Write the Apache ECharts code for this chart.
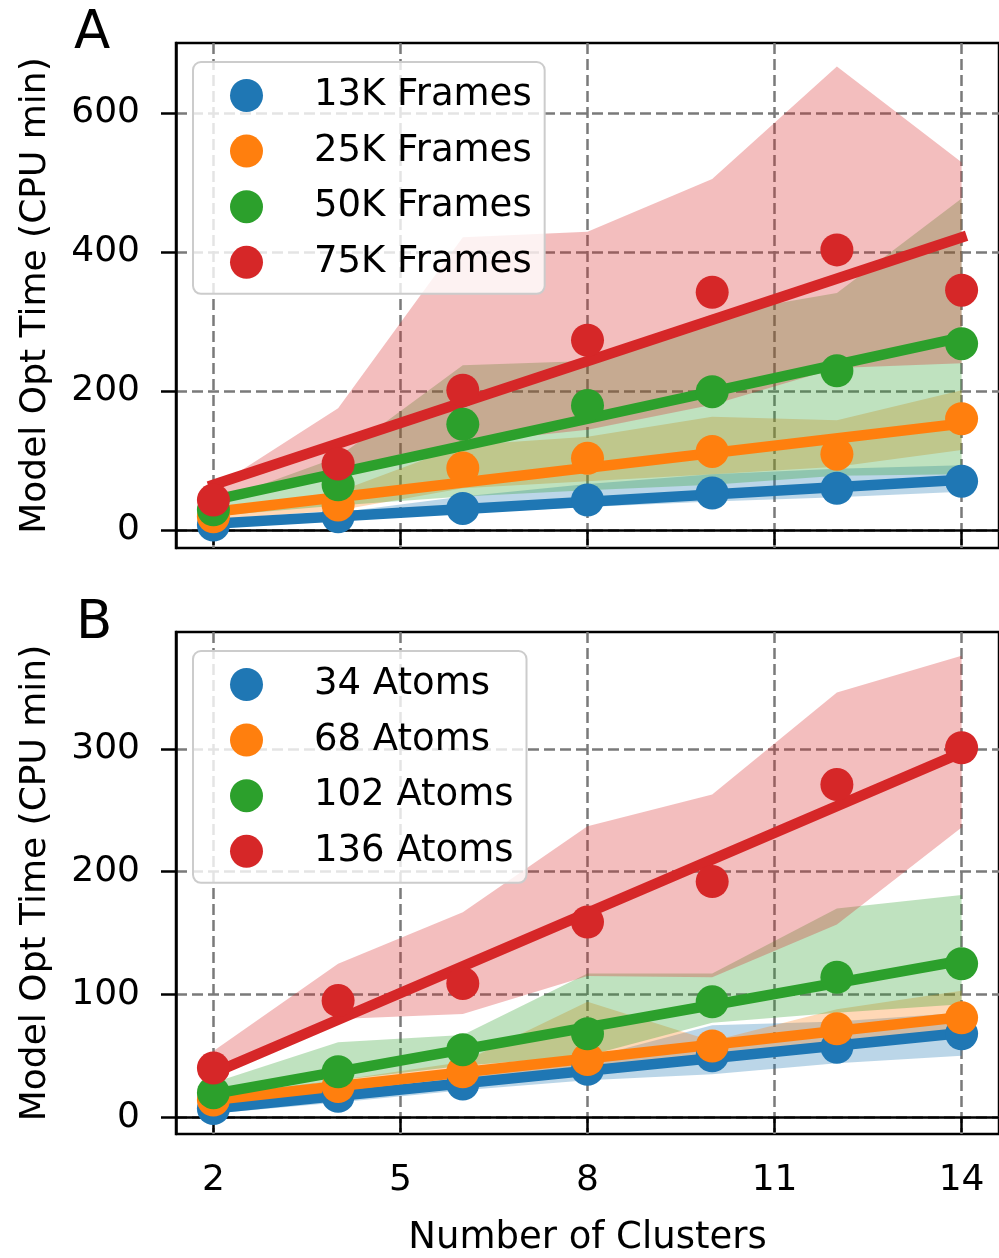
<!DOCTYPE html>
<html><head><meta charset="utf-8">
<script src="https://cdn.jsdelivr.net/npm/echarts@6/dist/echarts.min.js"></script>
<style>html,body{margin:0;padding:0;background:#fff}#c{width:999px;height:1258px}</style>
</head><body><div id="c"></div>
<script>
// ---------- data ----------
const clusters = [2, 4, 6, 8, 10, 12, 14];
const fitX = [2, 14];
const xTicks = [2, 5, 8, 11, 14];
const yTicksA = [0, 200, 400, 600];
const yTicksB = [0, 100, 200, 300];
const namesA = ['13K Frames', '25K Frames', '50K Frames', '75K Frames'];
const namesB = ['34 Atoms', '68 Atoms', '102 Atoms', '136 Atoms'];
const colors = ['#1f77b4', '#ff7f0e', '#2ca02c', '#d62728'];
const bandColors = ['rgba(31,119,180,0.3)', 'rgba(255,127,14,0.3)', 'rgba(44,160,44,0.3)', 'rgba(214,39,40,0.3)'];

// Panel A: mean points
const a13K = [7, 19, 31, 43, 53, 60, 70];
const a25K = [19, 36, 89, 103, 113, 109, 160];
const a50K = [29, 65, 152, 179, 199, 229, 268];
const a75K = [43, 95, 201, 273, 342, 403, 345];
// Panel A: band lower / upper
const a13KLow = [4, 13, 24, 33, 41, 47, 55];
const a13KHigh = [10, 25, 48, 66, 80, 88, 93];
const a25KLow = [15, 28, 60, 70, 80, 91, 115];
const a25KHigh = [28, 55, 122, 134, 163, 158, 201];
const a50KLow = [20, 35, 48, 57, 65, 78, 80];
const a50KHigh = [40, 105, 237, 243, 310, 341, 477];
const a75KLow = [35, 80, 125, 144, 180, 233, 240];
const a75KHigh = [60, 175, 421, 429, 505, 667, 529];
// Panel A: fit line values at x=2 and x=14
const a13KFit = [9, 72];
const a25KFit = [26, 153];
const a50KFit = [43, 277];
const a75KFit = [65, 421];

// Panel B: mean points
const b34 = [7, 17, 27, 39, 50, 57, 68];
const b68 = [14, 25, 37, 47, 58, 72, 81];
const b102 = [20, 37, 55, 68, 94, 114, 125];
const b136 = [40, 95, 109, 159, 192, 271, 301];
// Panel B: band lower / upper
const b34Low = [3, 12, 22, 30, 35, 44, 50];
const b34High = [10, 22, 33, 48, 75, 78, 85];
const b68Low = [10, 20, 30, 38, 48, 60, 70];
const b68High = [18, 30, 45, 94, 62, 88, 103];
const b102Low = [15, 30, 42, 50, 77, 85, 92];
const b102High = [28, 61, 67, 117, 117, 170, 181];
const b136Low = [33, 80, 84, 115, 114, 157, 236];
const b136High = [54, 125, 167, 237, 263, 346, 376];
// Panel B: fit line values at x=2 and x=14
const b34Fit = [7, 68.5];
const b68Fit = [14, 81.5];
const b102Fit = [19, 127.5];
const b136Fit = [36, 297];

// ---------- build ----------
const FONT = 'DejaVu Sans';
const panels = [
  { means: [a13K, a25K, a50K, a75K], lows: [a13KLow, a25KLow, a50KLow, a75KLow],
    highs: [a13KHigh, a25KHigh, a50KHigh, a75KHigh], fits: [a13KFit, a25KFit, a50KFit, a75KFit], names: namesA },
  { means: [b34, b68, b102, b136], lows: [b34Low, b68Low, b102Low, b136Low],
    highs: [b34High, b68High, b102High, b136High], fits: [b34Fit, b68Fit, b102Fit, b136Fit], names: namesB }
];

function bandSeries(p, low, high, color) {
  return {
    type: 'custom', xAxisIndex: p, yAxisIndex: p, silent: true, z: 1,
    data: clusters.map((x, i) => [x, low[i], high[i]]),
    encode: { x: 0, y: [1, 2] },
    renderItem: function (params, api) {
      if (params.dataIndex !== 0) return null;
      const pts = [];
      for (let i = 0; i < clusters.length; i++) pts.push(api.coord([clusters[i], high[i]]));
      for (let i = clusters.length - 1; i >= 0; i--) pts.push(api.coord([clusters[i], low[i]]));
      return { type: 'polygon', shape: { points: pts }, style: { fill: color, stroke: null } };
    }
  };
}

const series = [];
panels.forEach((pan, p) => {
  for (let k = 0; k < 4; k++) series.push(bandSeries(p, pan.lows[k], pan.highs[k], bandColors[k]));
});
panels.forEach((pan, p) => {
  for (let k = 0; k < 4; k++) {
    series.push({
      name: pan.names[k], type: 'scatter', xAxisIndex: p, yAxisIndex: p, z: 3,
      symbol: 'circle', symbolSize: 33, itemStyle: { color: colors[k], opacity: 1 },
      data: clusters.map((x, i) => [x, pan.means[k][i]])
    });
    series.push({
      name: pan.names[k] + ' fit', type: 'line', xAxisIndex: p, yAxisIndex: p, z: 3,
      showSymbol: false, symbol: 'none', silent: true,
      lineStyle: { color: colors[k], width: 10.5, cap: 'square' },
      data: fitX.map((x, i) => [x, pan.fits[k][i]])
    });
  }
});

const gridStyle = { show: true, borderColor: '#000', borderWidth: 2.5, backgroundColor: 'transparent' };
const splitLine = { show: true, lineStyle: { color: '#7a7a7a', width: 2.5, type: [11, 5] } };
const axisLine = { show: true, lineStyle: { color: '#000', width: 2.5 } };
const tick = (vals) => ({ show: true, customValues: vals, length: 15, lineStyle: { color: '#000', width: 2.5 } });

function xAxis(p, showLabel) {
  return {
    type: 'value', gridIndex: p, min: 1.4, max: 14.6,
    axisLine: axisLine, axisTick: tick(xTicks), splitLine: splitLine,
    axisLabel: { show: showLabel, customValues: xTicks, fontSize: 36, color: '#000', fontFamily: FONT, margin: 29 },
    name: showLabel ? 'Number of Clusters' : '', nameLocation: 'middle', nameGap: 86,
    nameTextStyle: { fontSize: 37, color: '#000', fontFamily: FONT }
  };
}
function yAxis(p, min, max, ticks) {
  return {
    type: 'value', gridIndex: p, min: min, max: max,
    axisLine: axisLine, axisTick: tick(ticks), splitLine: splitLine,
    axisLabel: { customValues: ticks, fontSize: 36, color: '#000', fontFamily: FONT, margin: 36 },
    name: 'Model Opt Time (CPU min)', nameLocation: 'middle', nameGap: 122,
    nameTextStyle: { fontSize: 36, color: '#000', fontFamily: FONT }
  };
}

function legend(p, top, names) {
  return {
    data: names, orient: 'vertical', left: 193, top: top,
    icon: 'circle', itemWidth: 33, itemHeight: 33, itemGap: 18.6,
    padding: [15, 13, 13, 37],
    backgroundColor: 'rgba(255,255,255,0.8)', borderColor: '#cccccc', borderWidth: 2, borderRadius: 8,
    textStyle: { fontSize: 37, lineHeight: 37, color: '#000', fontFamily: FONT, padding: [0, 0, 0, 46] },
    selectedMode: false
  };
}

const option = {
  animation: false,
  backgroundColor: '#fff',
  grid: [
    Object.assign({ left: 176, top: 43, width: 828, height: 505 }, gridStyle),
    Object.assign({ left: 176, top: 632, width: 828, height: 506 }, gridStyle)
  ],
  xAxis: [xAxis(0, false), xAxis(1, true)],
  yAxis: [yAxis(0, -26, 700.7, yTicksA), yAxis(1, -13.7, 395.3, yTicksB)],
  legend: [legend(0, 62, namesA), legend(1, 651, namesB)],
  graphic: [
    { type: 'text', left: 74, top: 8, style: { text: 'A', font: '53px "DejaVu Sans"', fill: '#000' } },
    { type: 'text', left: 76, top: 598, style: { text: 'B', font: '53px "DejaVu Sans"', fill: '#000' } }
  ],
  series: series
};

const chart = echarts.init(document.getElementById('c'), null, { renderer: 'canvas' });
chart.setOption(option);
</script></body></html>
